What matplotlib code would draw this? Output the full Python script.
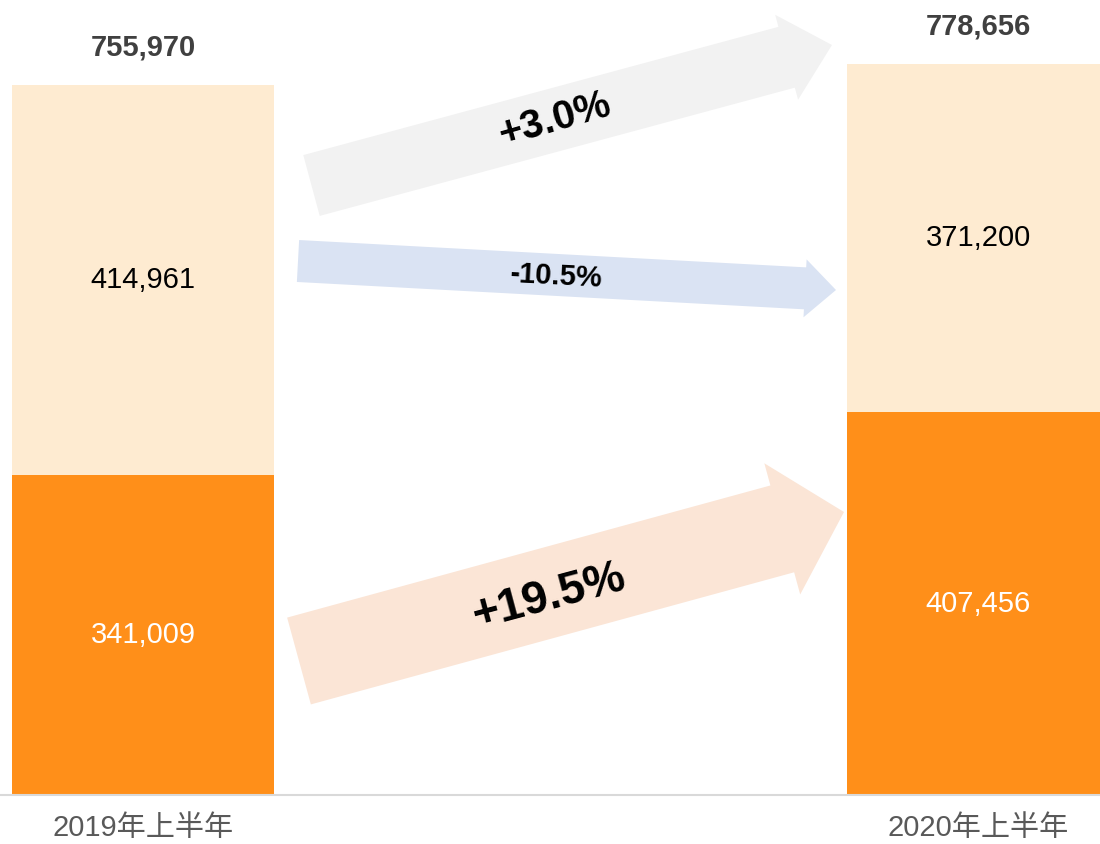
import matplotlib
matplotlib.use("Agg")
import matplotlib.pyplot as plt
from matplotlib.patches import FancyArrow
from matplotlib import transforms

# data
periods = ["2019年上半年", "2020年上半年"]
bottom_vals = [341009, 407456]
top_vals = [414961, 371200]
totals = [755970, 778656]
changes = ["+3.0%", "-10.5%", "+19.5%"]

plt.rcParams['font.family'] = ['Liberation Sans', 'Noto Sans CJK SC', 'DejaVu Sans']

fig = plt.figure(figsize=(11, 8.44), dpi=100)
ax = fig.add_axes([0, 49 / 844, 1, 795 / 844])

x = [0, 1]
w = 0.314
ax.bar(x, bottom_vals, width=w, color='#FF8F19', zorder=2)
ax.bar(x, top_vals, width=w, bottom=bottom_vals, color='#FEEBD1', zorder=2)

ax.set_xlim(-0.1713, 1.146)
ax.set_ylim(0, 846500)

for xi, b, t, tot in zip(x, bottom_vals, top_vals, totals):
    ax.text(xi, b / 2, f"{b:,}", ha='center', va='center', fontsize=21, color='white')
    ax.text(xi, b + t / 2, f"{t:,}", ha='center', va='center', fontsize=21, color='black')
    ax.annotate(f"{tot:,}", (xi, tot), xytext=(0, 27), textcoords='offset points',
                ha='center', va='center', fontsize=21, fontweight='bold', color='#404040')

for s in ['top', 'left', 'right']:
    ax.spines[s].set_visible(False)
ax.spines['bottom'].set_color('#D9D9D9')
ax.spines['bottom'].set_linewidth(1.5)
ax.spines['bottom'].set_zorder(3)
ax.set_yticks([])
ax.set_xticks(x)
ax.set_xticklabels(periods, fontsize=21, color='#595959')
ax.tick_params(axis='x', length=0, pad=14)

# arrows in pixel coordinates (origin top-left)
px = transforms.Affine2D().scale(1 / 1100, -1 / 844).translate(0, 1) + fig.transFigure

arrows = [
    # tail x, tail y, dx, dy, shaft width, head width, head length, color
    (311.5, 185.5, 520.5, -140.5, 63, 88, 47, '#F2F2F2'),
    (298, 261, 538, 29, 42, 58, 31, '#DAE3F3'),
    (299, 661, 545, -149, 90, 136, 64, '#FBE5D6'),
]
for (ax0, ay0, dx, dy, sw, hw, hl, c) in arrows:
    a = FancyArrow(ax0, ay0, dx, dy, width=sw, head_width=hw, head_length=hl,
                   length_includes_head=True, color=c, lw=0, transform=px)
    fig.add_artist(a)

labels = [
    (555, 120, 16, 29, changes[0]),
    (556, 276, -3, 21, changes[1]),
    (549, 597, 15, 33, changes[2]),
]
for (tx, ty, rot, fs, s) in labels:
    fig.text(tx, ty, s, transform=px, ha='center', va='center', rotation=rot,
             rotation_mode='anchor', fontsize=fs, fontweight='bold', color='black')

fig.savefig("out.png", dpi=100)
